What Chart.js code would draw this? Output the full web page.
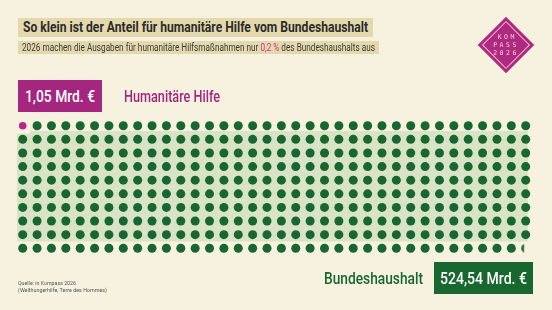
<!DOCTYPE html>
<html lang="de">
<head>
<meta charset="utf-8">
<script src="https://cdn.jsdelivr.net/npm/chart.js@4.4.1/dist/chart.umd.min.js"></script>
<style>
  html, body { margin: 0; padding: 0; background: #f6f2df; }
  #wrap { position: relative; width: 552px; height: 310px; overflow: hidden; font-family: Roboto, "DejaVu Sans", sans-serif; }
  #dots { position: absolute; left: 0; top: 0; }
  .abs { position: absolute; white-space: nowrap; }
  .fit { display: inline-block; transform-origin: left center; }
  #titleBox { left: 18px; top: 18px; width: 355px; height: 19px; background: #e4d9ad; }
  #title { left: 23px; top: 18px; height: 19px; color: #2b2b2b; font-weight: bold; font-size: 15px; line-height: 19px; }
  #subBox { left: 18px; top: 41px; width: 361px; height: 13px; background: #e4d9ad; }
  #subtitle { left: 22px; top: 41px; color: #3a3a3a; font-size: 10px; line-height: 13px; }
  #subtitle .hl { color: #d2308f; }
  #smallBox { left: 18px; top: 80px; width: 84px; height: 32px; background: #a5267f; }
  #smallValue { left: 25px; top: 80px; color: #fff; font-size: 17px; font-weight: 500; line-height: 32px; }
  #smallLabel { left: 124px; top: 80px; line-height: 32px; color: #a5267f; font-size: 17px; font-weight: 500; }
  #bigLabel { left: 324px; top: 262px; line-height: 32px; color: #17672f; font-size: 17px; font-weight: 500; }
  #bigBox { left: 434px; top: 262px; width: 99px; height: 32px; background: #17672f; }
  #bigValue { left: 440px; top: 262px; color: #fff; font-size: 17px; font-weight: 500; line-height: 32px; }
  #source { left: 18px; top: 280px; color: #555; font-size: 6px; line-height: 6.5px; }
  #logo { left: 486px; top: 25px; width: 40px; height: 40px; background: #ad2a7f; transform: rotate(45deg); }
  #logo::after { content: ""; position: absolute; left: 3px; top: 3px; right: 3px; bottom: 3px; border: 1px solid #f0b7d6; }
  #logoText { left: 486px; top: 33px; width: 40px; text-align: center; color: #f6cde2;
    font-size: 6.5px; line-height: 8px; letter-spacing: 2.5px; text-indent: 2.5px; font-family: "DejaVu Sans Mono", monospace; }
</style>
</head>
<body>
<div id="wrap">
  <canvas id="dots" width="552" height="310"></canvas>
  <div class="abs" id="titleBox"></div>
  <div class="abs" id="subBox"></div>
  <div class="abs" id="smallBox"></div>
  <div class="abs" id="bigBox"></div>
  <div class="abs" id="title"><span class="fit" data-w="345">So klein ist der Anteil für humanitäre Hilfe vom Bundeshaushalt</span></div>
  <div class="abs" id="subtitle"><span class="fit" data-w="353">2026 machen die Ausgaben für humanitäre Hilfsmaßnahmen nur <span class="hl">0,2 %</span> des Bundeshaushalts aus</span></div>
  <div class="abs" id="smallValue"><span class="fit" data-w="70"></span></div>
  <div class="abs" id="smallLabel"><span class="fit" data-w="96"></span></div>
  <div class="abs" id="bigLabel"><span class="fit" data-w="99"></span></div>
  <div class="abs" id="bigValue"><span class="fit" data-w="87"></span></div>
  <div class="abs" id="source"><span class="fit" data-w="58">Quelle: in Kompass 2026</span><br><span class="fit" data-w="89">(Welthungerhilfe, Terre des Hommes)</span></div>
  <div class="abs" id="logo"></div>
  <div class="abs" id="logoText">KOM<br>PASS<br>2026</div>
</div>
<script>
// data (Mrd. €)
const categories = ['Humanitäre Hilfe', 'Bundeshaushalt'];
const valueLabels = ['1,05 Mrd. €', '524,54 Mrd. €'];
const humanitarian = 1.05;
const federalBudget = 524.54;

// waffle grid
const gridCols = 36;
const gridRows = 10;
const euroPerDot = 1.461;
const dotRadius = 4.5;

const colors = { pink: '#b8288a', green: '#17672f', greenBg: '#d9e3c6' };

document.querySelector('#smallValue .fit').textContent = valueLabels[0];
document.querySelector('#smallLabel .fit').textContent = categories[0];
document.querySelector('#bigLabel .fit').textContent = categories[1];
document.querySelector('#bigValue .fit').textContent = valueLabels[1];

// squeeze text to the condensed widths of the original
document.querySelectorAll('.fit').forEach((el) => {
  const w = el.getBoundingClientRect().width;
  el.style.transform = `scaleX(${Number(el.dataset.w) / w})`;
});

function slotPos(i) {
  return { x: i % gridCols, y: Math.floor(i / gridCols) };
}

// humanitarian aid takes the first slot, its dot area scaled by value
const pinkRadius = dotRadius * Math.sqrt(humanitarian / euroPerDot);

// rest of the budget fills the following slots
const greenUnits = (federalBudget - humanitarian) / euroPerDot;
const fullGreen = Math.min(Math.floor(greenUnits), gridCols * gridRows - 2);
const lastFraction = greenUnits - fullGreen;

const greenPoints = [];
for (let i = 1; i <= fullGreen; i++) greenPoints.push(slotPos(i));
const partialPoint = [slotPos(fullGreen + 1)];

function partialDot(r, frac) {
  const c = document.createElement('canvas');
  const size = Math.ceil(r * 2) + 2;
  c.width = size;
  c.height = size;
  const ctx = c.getContext('2d');
  ctx.beginPath();
  ctx.rect(0, 0, 1 + r * 2 * Math.min(frac, 1), size);
  ctx.clip();
  ctx.beginPath();
  ctx.arc(size / 2, size / 2, r, 0, Math.PI * 2);
  ctx.fillStyle = colors.green;
  ctx.fill();
  return c;
}

// light green panel behind the budget dots, painted underneath what is already drawn
const backdrop = {
  id: 'backdrop',
  afterDraw(chart) {
    const { ctx } = chart;
    const x = chart.scales.x, y = chart.scales.y;
    const l = x.getPixelForValue(-0.4), r = x.getPixelForValue(gridCols - 1 + 0.15);
    const t = y.getPixelForValue(0.38), b = y.getPixelForValue(gridRows - 1.5);
    const nx = x.getPixelForValue(0.5), ny = y.getPixelForValue(0.6);
    ctx.save();
    ctx.globalCompositeOperation = 'destination-over';
    ctx.fillStyle = colors.greenBg;
    ctx.beginPath();
    ctx.moveTo(nx, t);
    ctx.lineTo(r, t);
    ctx.lineTo(r, b);
    ctx.lineTo(l, b);
    ctx.lineTo(l, ny);
    ctx.lineTo(nx, ny);
    ctx.closePath();
    ctx.fill();
    ctx.restore();
  },
};

new Chart(document.getElementById('dots'), {
  type: 'scatter',
  data: {
    datasets: [
      {
        label: categories[0],
        data: [slotPos(0)],
        pointRadius: pinkRadius,
        backgroundColor: colors.pink,
        borderWidth: 0,
        clip: false,
      },
      {
        label: categories[1],
        data: greenPoints,
        pointRadius: dotRadius,
        backgroundColor: colors.green,
        borderWidth: 0,
        clip: false,
      },
      {
        label: categories[1],
        data: partialPoint,
        pointStyle: partialDot(dotRadius, lastFraction),
        pointRadius: dotRadius,
        clip: false,
      },
    ],
  },
  options: {
    responsive: false,
    animation: false,
    devicePixelRatio: 1,
    layout: { padding: { left: 22.7, right: 26.3, top: 125.7, bottom: 61.7 } },
    scales: {
      x: { type: 'linear', min: 0, max: gridCols - 1, display: false },
      y: { type: 'linear', min: 0, max: gridRows - 1, reverse: true, display: false },
    },
    plugins: { legend: { display: false }, tooltip: { enabled: false } },
    events: [],
  },
  plugins: [backdrop],
});
</script>
</body>
</html>
